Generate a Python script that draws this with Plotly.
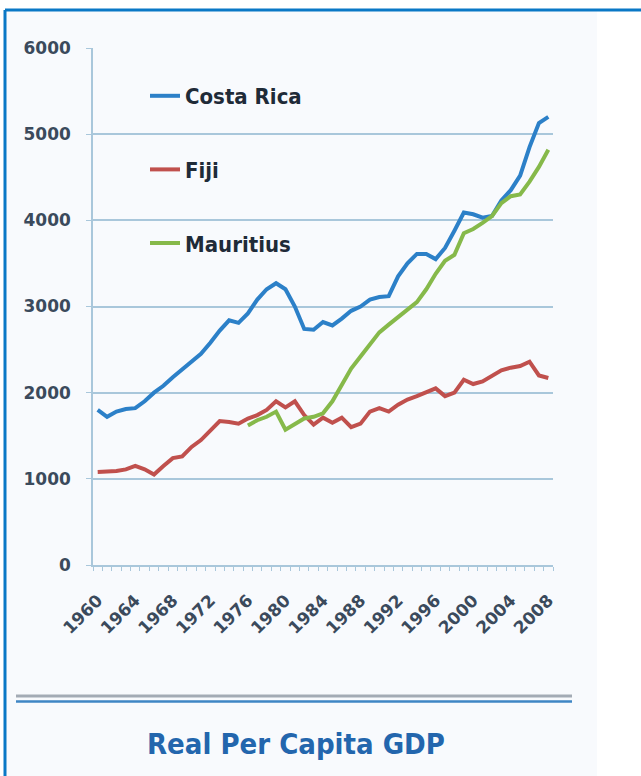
import plotly.graph_objects as go

years = list(range(1960, 2009))

costa_rica = [1800, 1720, 1780, 1810, 1820, 1900, 2000, 2080, 2180, 2270,
              2370, 2450, 2580, 2720, 2840, 2810, 2920, 3080, 3200, 3270,
              3200, 3000, 2740, 2730, 2820, 2780, 2860, 2950, 3000, 3080,
              3110, 3120, 3350, 3500, 3610, 3610, 3550, 3680, 3880, 4090,
              4070, 4030, 4050, 4230, 4350, 4520, 4850, 5130, 5200]

fiji = [1080, 1080, 1090, 1110, 1150, 1110, 1050, 1150, 1240, 1260,
        1370, 1450, 1560, 1670, 1660, 1640, 1700, 1740, 1800, 1900,
        1830, 1900, 1740, 1630, 1710, 1650, 1710, 1600, 1640, 1780,
        1820, 1780, 1860, 1920, 1960, 2000, 2050, 1960, 2000, 2150,
        2100, 2130, 2200, 2260, 2290, 2310, 2360, 2200, 2170]

mauritius = [None] * 16 + [1620, 1680, 1720, 1780,
             1570, 1640, 1700, 1720, 1760, 1900, 2080, 2280, 2420, 2560,
             2700, 2790, 2880, 2960, 3050, 3200, 3380, 3530, 3600, 3850,
             3900, 3970, 4050, 4200, 4280, 4300, 4450, 4620, 4820]

label_years = list(range(1960, 2009, 4))
y_ticks = [0, 1000, 2000, 3000, 4000, 5000, 6000]

series_names = ["Costa Rica", "Fiji", "Mauritius"]
series_colors = ["#2c80c8", "#c0504d", "#86b94a"]
chart_title = "Real Per Capita GDP"

W, H = 641, 776
L, R, T, B = 93, 553, 48, 565  # plot area in px


def px(xp):
    return (xp - L) / (R - L)


def py(yp):
    return (B - yp) / (B - T)


fig = go.Figure()
for i, (name, vals) in enumerate(zip(series_names, [costa_rica, fiji, mauritius])):
    fig.add_trace(go.Scatter(
        x=years, y=vals, name=name, mode="lines",
        line=dict(color=series_colors[i], width=4),
        legendgroup=f"g{i}", connectgaps=False,
    ))

grid = "#a9c7db"
tickfont = dict(family="DejaVu Sans", size=17, color="#3b4a5c", weight="bold")

fig.update_xaxes(
    range=[1959.5, 2008.5],
    tickmode="array", tickvals=label_years, ticktext=[str(v) for v in label_years],
    tickangle=-45, ticks="", tickfont=tickfont, ticklabelstandoff=17,
    showgrid=False, zeroline=False,
    showline=True, linecolor=grid, linewidth=1.5,
    minor=dict(tickmode="linear", tick0=1959.5, dtick=1, ticks="outside",
               ticklen=4, tickcolor=grid, tickwidth=1.2, showgrid=False),
)
fig.update_yaxes(
    range=[0, 6000], tickmode="array", tickvals=y_ticks,
    tickfont=tickfont, ticks="outside", ticklen=5, tickcolor=grid,
    ticklabelstandoff=12,
    showgrid=True, gridcolor=grid, gridwidth=1.5, zeroline=False,
    showline=True, linecolor=grid, linewidth=1.5,
)

shapes = [
    dict(type="rect", xref="paper", yref="paper", layer="below",
         x0=px(6), x1=px(597), y0=py(776), y1=py(11),
         fillcolor="#f8fafd", line=dict(width=0)),
    dict(type="line", xref="paper", yref="paper",
         x0=px(5), x1=px(660), y0=py(10), y1=py(10),
         line=dict(color="#0a78c6", width=3)),
    dict(type="line", xref="paper", yref="paper",
         x0=px(5), x1=px(5), y0=py(10), y1=py(800),
         line=dict(color="#0a78c6", width=3)),
    dict(type="line", xref="paper", yref="paper",
         x0=px(16), x1=px(572), y0=py(696), y1=py(696),
         line=dict(color="#a3abb5", width=3)),
    dict(type="line", xref="paper", yref="paper",
         x0=px(16), x1=px(572), y0=py(701.5), y1=py(701.5),
         line=dict(color="#3f86c4", width=2.5)),
]

annotations = [
    dict(text=f"<b>{chart_title}</b>", xref="paper", yref="paper",
         x=px(296), y=py(744), xanchor="center", yanchor="middle",
         showarrow=False,
         font=dict(family="DejaVu Sans Condensed", size=29, color="#2366ad")),
]

fig.update_layout(
    width=W, height=H,
    margin=dict(l=L, r=W - R, t=T, b=H - B, pad=0),
    paper_bgcolor="#ffffff", plot_bgcolor="rgba(0,0,0,0)",
    showlegend=True,
    legend=dict(x=px(145), y=py(75), xanchor="left", yanchor="top",
                traceorder="grouped", tracegroupgap=42,
                bgcolor="rgba(0,0,0,0)", itemwidth=30,
                font=dict(family="DejaVu Sans Condensed", size=22, color="#1f2b38",
                          weight="bold")),
    shapes=shapes, annotations=annotations,
)

fig.write_html("out.html", config={"displayModeBar": False},
               post_script="document.body.style.margin='0';document.body.style.padding='0';")
